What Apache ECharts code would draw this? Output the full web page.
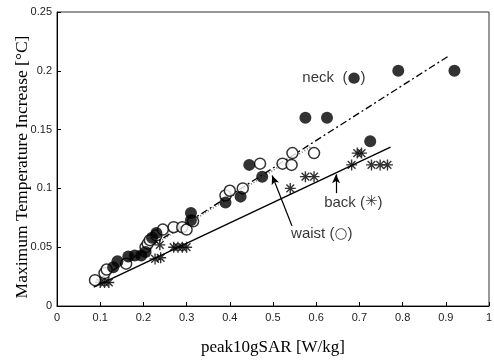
<!DOCTYPE html>
<html>
<head>
<meta charset="utf-8">
<script src="https://cdn.jsdelivr.net/npm/echarts@6/dist/echarts.min.js"></script>
<style>
  html, body { margin: 0; padding: 0; background: #fff; }
  #chart { width: 494px; height: 360px; }
</style>
</head>
<body>
<div id="chart"></div>
<script>
// ---- data ----
const xTicks = [0, 0.1, 0.2, 0.3, 0.4, 0.5, 0.6, 0.7, 0.8, 0.9, 1];
const yTicks = [0, 0.05, 0.1, 0.15, 0.2, 0.25];

const neckPts = [
  [0.13, 0.033], [0.14, 0.038], [0.165, 0.042], [0.18, 0.043], [0.195, 0.043],
  [0.205, 0.046], [0.22, 0.058], [0.23, 0.062], [0.31, 0.073], [0.31, 0.079],
  [0.39, 0.088], [0.425, 0.093], [0.445, 0.12], [0.475, 0.11], [0.575, 0.16],
  [0.625, 0.16], [0.725, 0.14], [0.79, 0.2], [0.92, 0.2]
];
const waistPts = [
  [0.088, 0.022], [0.11, 0.028], [0.115, 0.031], [0.16, 0.036], [0.205, 0.05],
  [0.21, 0.053], [0.215, 0.056], [0.23, 0.06], [0.245, 0.065], [0.27, 0.067],
  [0.29, 0.067], [0.3, 0.065], [0.315, 0.072], [0.39, 0.094], [0.4, 0.098],
  [0.43, 0.1], [0.47, 0.121], [0.522, 0.121], [0.543, 0.12], [0.545, 0.13],
  [0.595, 0.13]
];
const backPts = [
  [0.1, 0.02], [0.11, 0.02], [0.12, 0.02], [0.227, 0.04], [0.24, 0.041],
  [0.238, 0.052], [0.27, 0.05], [0.28, 0.05], [0.29, 0.05], [0.3, 0.05],
  [0.54, 0.1], [0.575, 0.11], [0.595, 0.11], [0.682, 0.12], [0.695, 0.13],
  [0.705, 0.13], [0.728, 0.12], [0.748, 0.12], [0.765, 0.12]
];

// fitted lines (end points)
const neckFit = [[0.1, 0.0236], [0.91, 0.2134]];
const waistFit = [[0.09, 0.021], [0.59, 0.136]];
const backFit = [[0.085, 0.016], [0.772, 0.135]];

// annotations: text, symbol, position
const labels = [
  { text: 'neck  (', sym: '\u25CF', pos: [0.641, 0.194] },
  { text: 'back (', sym: '\u2733', pos: [0.686, 0.088] },
  { text: 'waist (', sym: '\u25CB', pos: [0.613, 0.061] }
];
const arrows = [
  [[0.544, 0.068], [0.498, 0.111]],
  [[0.646, 0.096], [0.646, 0.112]]
];

const asterisk = 'path://M0 5L10 5M5 0L5 10M1.5 1.5L8.5 8.5M8.5 1.5L1.5 8.5';

const chart = echarts.init(document.getElementById('chart'));

chart.setOption({
  animation: false,
  grid: {
    left: 57, right: 5, top: 12, bottom: 54,
    outerBoundsMode: 'none',
    show: true, borderColor: '#333', borderWidth: 1
  },
  xAxis: {
    type: 'value', min: 0, max: 1, interval: 0.1,
    name: 'peak10gSAR [W/kg]',
    nameLocation: 'middle', nameGap: 33,
    nameTextStyle: { fontFamily: 'Liberation Serif', fontSize: 17, color: '#000' },
    axisLine: { lineStyle: { color: '#000' } },
    axisTick: { inside: true, length: 4, lineStyle: { color: '#000' } },
    splitLine: { show: false },
    axisLabel: {
      fontFamily: 'Liberation Sans', fontSize: 11, color: '#222', margin: 6,
      formatter: v => String(xTicks.find(t => Math.abs(t - v) < 1e-9) ?? v)
    }
  },
  yAxis: {
    type: 'value', min: 0, max: 0.25, interval: 0.05,
    name: 'Maximum Temperature Increase [\u00B0C]',
    nameLocation: 'middle', nameGap: 26, nameMoveOverlap: false,
    nameTextStyle: {
      fontFamily: 'Liberation Serif', fontSize: 17.5, color: '#000',
      padding: [0, 16, 0, 0]
    },
    axisLine: { lineStyle: { color: '#000' } },
    axisTick: { inside: true, length: 4, lineStyle: { color: '#000' } },
    splitLine: { show: false },
    axisLabel: {
      fontFamily: 'Liberation Sans', fontSize: 11, color: '#222', margin: 5,
      formatter: v => String(yTicks.find(t => Math.abs(t - v) < 1e-9) ?? v)
    }
  },
  series: [
    {
      type: 'line', data: backFit, symbol: 'none',
      lineStyle: { color: '#000', width: 1.4 }, z: 2
    },
    {
      type: 'line', data: waistFit, symbol: 'none',
      lineStyle: { color: '#777', width: 1.6, type: [1, 2] }, z: 2
    },
    {
      type: 'line', data: neckFit, symbol: 'none',
      lineStyle: { color: '#000', width: 1.3, type: [7, 3, 2, 3] }, z: 2
    },
    {
      type: 'scatter', data: backPts, symbol: asterisk, symbolSize: 11,
      itemStyle: { color: 'rgba(0,0,0,0)', borderColor: '#000', borderWidth: 1.4 }, z: 3
    },
    {
      type: 'scatter', data: waistPts, symbol: 'circle', symbolSize: 11,
      itemStyle: { color: '#fff', borderColor: '#000', borderWidth: 1.5 }, z: 4
    },
    {
      type: 'scatter', data: neckPts, symbol: 'circle', symbolSize: 12,
      itemStyle: { color: '#000' }, z: 5
    },
    {
      type: 'scatter', symbolSize: 0, silent: true, z: 6,
      data: labels.map(l => ({ name: l.text, value: l.pos, sym: l.sym })),
      label: {
        show: true, position: 'inside',
        formatter: p => '{t|' + p.name + '}{s|' + p.data.sym + '}{t|)}',
        rich: {
          t: { fontFamily: 'Liberation Sans', fontSize: 15, color: '#000' },
          s: { fontFamily: 'DejaVu Sans', fontSize: 15, color: '#000' }
        }
      },
      markLine: {
        silent: true, symbol: ['none', 'arrow'], symbolSize: [6, 9],
        label: { show: false },
        lineStyle: { color: '#000', width: 1.2, type: 'solid' },
        data: arrows.map(a => [{ coord: a[0] }, { coord: a[1] }])
      }
    }
  ]
});
</script>
</body>
</html>
